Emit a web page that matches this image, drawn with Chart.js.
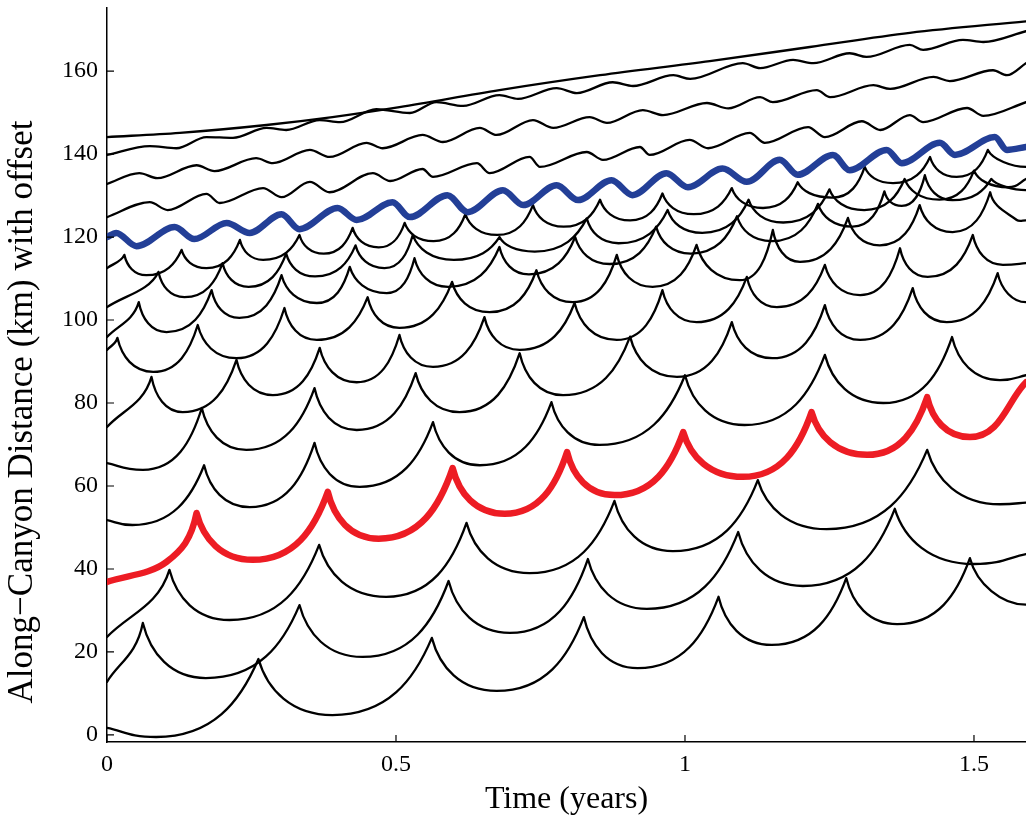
<!DOCTYPE html>
<html><head><meta charset="utf-8">
<script src="https://cdn.jsdelivr.net/npm/chart.js@4.4.1/dist/chart.umd.min.js"></script>
<style>html,body{margin:0;padding:0;background:#fff}#wrap{width:1026px;height:816px}</style>
</head><body><div id="wrap"><canvas id="c" width="1026" height="816"></canvas></div>
<script>
const xTicks=[0,0.5,1,1.5];
const yTicks=[0,20,40,60,80,100,120,140,160];
const xLabel='Time (years)';
const yLabel='Along\u2212Canyon Distance (km) with offset';

// scallop curves (t, km): cusps and troughs
const curve1=[[0,1.7],[0.085,-0.5],[0.262,18.3],[0.39,4.8],[0.562,23.4],[0.674,10.6],[0.825,28.4],[0.918,16.1],[1.058,33.3],[1.15,21.7],[1.279,37.8],[1.367,26.7],[1.493,42.6],[1.59,31.4]];
const curve2=[[0,12.8],[0.062,27],[0.171,13.7],[0.333,31.3],[0.442,18.8],[0.591,37.1],[0.697,24.6],[0.832,42.4],[0.934,30.4],[1.092,48.9],[1.204,35.9],[1.363,54.5],[1.5,41.2],[1.59,43.6]];
const curve3=[[0,23.6],[0.108,39.8],[0.212,27.7],[0.367,45.8],[0.483,33.3],[0.622,51.1],[0.731,39],[0.878,56.4],[0.979,44.3],[1.126,61.4],[1.245,49.6],[1.419,68.7],[1.545,55.6],[1.59,56]];
const redCurve=[[0,36.9],[0.103,41.7],[0.155,53.5],[0.252,42.2],[0.382,58.6],[0.47,47.3],[0.598,64.3],[0.688,53.3],[0.796,68.2],[0.878,57.8],[0.997,73],[1.1,62.2],[1.219,77.8],[1.315,67.5],[1.419,81.4],[1.493,71.8],[1.59,85]];
const curve5=[[0,51.8],[0.044,50.6],[0.168,65],[0.247,54.9],[0.359,70.4],[0.437,59.8],[0.564,75.4],[0.645,65],[0.769,80.2],[0.852,69.9],[1.0,86.7],[1.103,74.7],[1.242,91.6],[1.343,80],[1.462,95.9],[1.545,85.5],[1.59,86.7]];
const curve6=[[0,65.5],[0.062,63.9],[0.164,78.8],[0.241,68.7],[0.359,83.6],[0.432,73.5],[0.534,87.2],[0.61,77.8],[0.714,92],[0.789,81.9],[0.905,96],[0.986,86.3],[1.081,99.5],[1.151,90.8],[1.242,103.6],[1.303,95.2],[1.394,107.7],[1.453,99.5],[1.541,111.3],[1.59,104.3]];
const curve7=[[0,74.2],[0.077,86.3],[0.131,77.8],[0.224,90.4],[0.287,81.9],[0.368,93.3],[0.432,85],[0.506,96.4],[0.564,88.7],[0.653,100.7],[0.714,92.8],[0.809,104.1],[0.882,95.2],[0.961,107.2],[1.02,99.5],[1.107,110.4],[1.159,103.1],[1.242,113.3],[1.303,106],[1.372,117.3],[1.42,110.4],[1.498,120.5],[1.55,113.3],[1.59,113.7]];
const curve8=[[0,92.8],[0.018,95.7],[0.08,87.5],[0.157,98.8],[0.224,90.8],[0.307,102.9],[0.363,95.2],[0.451,105.5],[0.506,98.1],[0.597,109.2],[0.662,101.9],[0.743,112],[0.806,104.3],[0.882,115.7],[0.944,108],[1.02,118.1],[1.095,109.6],[1.152,121.7],[1.199,114],[1.282,124.6],[1.337,118],[1.406,127.7],[1.463,121.2],[1.528,130.8],[1.574,124.1],[1.59,124]];
const curve9=[[0,95.9],[0.055,104.3],[0.103,97.1],[0.181,107.2],[0.229,100.5],[0.302,110.8],[0.363,104.1],[0.42,112.8],[0.484,106.5],[0.532,114.9],[0.59,108],[0.679,117.6],[0.73,111],[0.81,120],[0.87,113.5],[0.95,122.5],[1.01,116],[1.09,125],[1.15,119],[1.23,128],[1.29,122.5],[1.345,131],[1.375,127.5],[1.415,134.9],[1.463,128.9],[1.53,134],[1.59,131.3]];
const curve10=[[0,103.1],[0.089,111.6],[0.134,105.5],[0.2,113.7],[0.245,108],[0.31,116],[0.36,110.5],[0.43,118],[0.48,112.5],[0.529,120.5],[0.6,114.5],[0.679,120],[0.74,116.5],[0.83,124.5],[0.885,118.5],[0.97,126.5],[1.03,121],[1.11,129],[1.17,123.5],[1.25,131.5],[1.31,126.5],[1.38,134],[1.44,129],[1.5,136],[1.56,132],[1.59,134]];
const curve11=[[0,112.5],[0.03,115.7],[0.068,110.8],[0.129,116.9],[0.172,112.5],[0.23,119.3],[0.27,114.5],[0.333,120.5],[0.375,116],[0.425,122.2],[0.47,117.5],[0.515,123.4],[0.565,119],[0.62,125.5],[0.675,120.5],[0.737,127.7],[0.79,122.5],[0.853,129],[0.905,124],[0.961,130.5],[1.015,125.5],[1.081,131.8],[1.135,127],[1.195,133.2],[1.255,129.5],[1.311,136.9],[1.36,133],[1.424,139.3],[1.47,134.5],[1.524,141],[1.59,136.9]];

// smooth wavy curves (peaks and troughs)
const blueCurve=[[0,120],[0.016,121],[0.051,117.8],[0.117,122.4],[0.151,119.5],[0.207,123.4],[0.247,121],[0.302,125.5],[0.333,121.9],[0.399,127],[0.432,124.1],[0.494,128.4],[0.524,124.8],[0.589,130.1],[0.624,126],[0.685,131.3],[0.72,127.7],[0.778,132.5],[0.815,128.9],[0.873,133.7],[0.909,130.1],[0.968,135.4],[1.005,132],[1.065,136.5],[1.107,133.3],[1.164,138.6],[1.195,135],[1.256,139.8],[1.285,136.1],[1.349,141],[1.375,137.8],[1.441,142.7],[1.467,139.8],[1.536,144.1],[1.557,141],[1.59,141.7]];
const top4=[[0,124.8],[0.074,128.4],[0.105,126.5],[0.172,130.4],[0.195,128.2],[0.27,131.8],[0.302,129.6],[0.351,133.3],[0.385,130.8],[0.46,135.4],[0.49,133.5],[0.546,136.4],[0.564,134.5],[0.64,137.8],[0.662,135.4],[0.731,139.3],[0.749,136.9],[0.83,140.5],[0.858,138.6],[0.922,141.7],[0.939,139.8],[1.008,143.4],[1.04,141.4],[1.112,145.1],[1.138,142.7],[1.213,146.5],[1.242,144.1],[1.306,147.9],[1.338,145.8],[1.389,149.4],[1.412,147.7],[1.488,151.1],[1.516,149.2],[1.59,152.5]];
const top3=[[0,132.8],[0.056,135.4],[0.087,134.2],[0.155,137.3],[0.186,135.9],[0.258,139],[0.287,137.8],[0.351,141],[0.385,139.3],[0.449,142.7],[0.477,141.4],[0.546,144.6],[0.581,142.9],[0.645,146.3],[0.674,144.6],[0.737,148.2],[0.772,146.3],[0.835,148.9],[0.865,147.5],[0.927,150.6],[0.962,149.4],[1.038,152.3],[1.075,151],[1.13,153.7],[1.152,152.5],[1.228,155.4],[1.251,153.7],[1.326,156.6],[1.355,155.7],[1.43,158.6],[1.458,157.6],[1.533,160.2],[1.557,159],[1.59,161.9]];
const top2=[[0,139.8],[0.074,141.9],[0.12,141.4],[0.172,144.1],[0.218,143.9],[0.276,146.3],[0.31,145.8],[0.368,148.2],[0.403,147.7],[0.466,150.8],[0.524,149.9],[0.57,152.5],[0.616,151.6],[0.679,154.2],[0.711,153.3],[0.778,155.9],[0.813,154.7],[0.875,157.3],[0.91,156.4],[0.98,159],[1.009,158.1],[1.1,161.9],[1.13,160.7],[1.187,162.7],[1.222,161.9],[1.285,164.3],[1.314,163.4],[1.389,166.3],[1.412,165.1],[1.481,167.5],[1.516,167],[1.59,169.6]];
const top1=[[0,144.1],[0.126,145.1],[0.276,147],[0.39,148.9],[0.506,151.3],[0.679,155.4],[0.853,159],[1.043,162.4],[1.216,165.8],[1.389,169.2],[1.59,172]];

const scallops=[curve1,curve2,curve3,curve5,curve6,curve7,curve8,curve9,curve10,curve11];
const waves=[top4,top3,top2,top1];

const toPts=arr=>arr.map(p=>({x:p[0],y:p[1]}));
const datasets=[];
datasets.push({data:toPts(redCurve),borderColor:'#ED1C24',borderWidth:6.5,tension:0.4,scallop:true});
datasets.push({data:toPts(blueCurve),borderColor:'#233F97',borderWidth:6.5,cubicInterpolationMode:'monotone'});
scallops.forEach(c=>datasets.push({data:toPts(c),borderColor:'#000',borderWidth:2.3,tension:0.4,scallop:true}));
waves.forEach(c=>datasets.push({data:toPts(c),borderColor:'#000',borderWidth:2.3,cubicInterpolationMode:'monotone'}));

// Curve styling: quarter-ellipse arcs between cusps (sharp) and troughs (flat)
const K=0.5523, TILT_UP=0.18, TILT_DOWN=0.12;
const scallopShape={id:'scallopShape',beforeDatasetDraw(chart,args){
  const ds=chart.data.datasets[args.index];
  if(!ds.scallop) return;
  const meta=args.meta,line=meta.dataset,p=meta.data,n=p.length;
  line.updateControlPoints(chart.chartArea,'x');
  const kinds=p.map((pt,i)=>{
    if(i===0||i===n-1) return 'e';
    if(pt.y<p[i-1].y&&pt.y<p[i+1].y) return 'c';
    if(pt.y>p[i-1].y&&pt.y>p[i+1].y) return 'm';
    return 'o';
  });
  for(let i=0;i<n;i++){
    const pt=p[i],k=kinds[i];
    const prev=i>0?p[i-1]:null,next=i<n-1?p[i+1]:null;
    let ux=0,uy=0;
    if(k==='o'||k==='e'){
      const a=prev||pt,b=next||pt;
      const dx=b.x-a.x,dy=b.y-a.y,L=Math.hypot(dx,dy)||1;ux=dx/L;uy=dy/L;
      if(k==='e'&&i===n-1&&prev&&kinds[i-1]==='c'&&pt.y>prev.y){ux=1;uy=0;}
    }
    if(prev){
      const dx=pt.x-prev.x,dy=Math.abs(pt.y-prev.y);
      if(k==='c'){pt.cp1x=pt.x-TILT_UP*dx;pt.cp1y=pt.y+K*dy;}
      else if(k==='m'){pt.cp1x=pt.x-K*dx;pt.cp1y=pt.y;}
      else{const L=Math.hypot(dx,dy)/3;pt.cp1x=pt.x-ux*L;pt.cp1y=pt.y-uy*L;}
    }
    if(next){
      const dx=next.x-pt.x,dy=Math.abs(next.y-pt.y);
      if(k==='c'){pt.cp2x=pt.x+TILT_DOWN*dx;pt.cp2y=pt.y+K*dy;}
      else if(k==='m'){pt.cp2x=pt.x+K*dx;pt.cp2y=pt.y;}
      else{const L=Math.hypot(dx,dy)/3;pt.cp2x=pt.x+ux*L;pt.cp2y=pt.y+uy*L;}
    }
  }
}};

const FONT='"Liberation Serif","Times New Roman",serif';
const tickFont={family:FONT,size:24};
const xTitleFont={family:FONT,size:32,lineHeight:1.0};
const Y_TITLE_SIZE=35;
const decor={id:'decor',afterDraw(chart){
  const ctx=chart.ctx,xs=chart.scales.x,ys=chart.scales.y,a=chart.chartArea;
  ctx.save();ctx.strokeStyle='#000';ctx.lineWidth=1.2;ctx.beginPath();
  xTicks.forEach(v=>{const p=xs.getPixelForValue(v);ctx.moveTo(p,a.bottom);ctx.lineTo(p,a.bottom-7);});
  yTicks.forEach(v=>{const p=ys.getPixelForValue(v);ctx.moveTo(a.left,p);ctx.lineTo(a.left+7,p);});
  ctx.stroke();
  ctx.translate(23,412);ctx.rotate(-Math.PI/2);
  ctx.font=Y_TITLE_SIZE+'px '+FONT;ctx.fillStyle='#000';ctx.textAlign='center';ctx.textBaseline='middle';
  ctx.fillText(yLabel,0,0);
  ctx.restore();
}};
new Chart(document.getElementById('c'),{
  type:'line',
  data:{datasets},
  options:{
    responsive:false,animation:false,devicePixelRatio:1,
    layout:{padding:{top:8,right:0,left:0,bottom:0}},
    elements:{point:{radius:0},line:{borderCapStyle:'round',borderJoinStyle:'round',fill:false}},
    plugins:{legend:{display:false},tooltip:{enabled:false}},
    scales:{
      x:{type:'linear',min:0,max:1.59,
        afterBuildTicks:s=>{s.ticks=xTicks.map(v=>({value:v}));},
        afterFit:s=>{s.height=74;s.paddingLeft=0;s.paddingRight=0;},
        ticks:{font:tickFont,color:'#000',padding:8,maxRotation:0,autoSkip:false,callback:v=>String(v)},
        grid:{display:false,drawTicks:false},
        border:{display:true,color:'#000',width:1.5},
        title:{display:true,text:xLabel,font:xTitleFont,color:'#000',padding:{top:0,bottom:0}}},
      y:{type:'linear',min:-1.7,max:175.2,
        afterBuildTicks:s=>{s.ticks=yTicks.map(v=>({value:v}));},
        afterFit:s=>{s.width=107;s.paddingTop=0;s.paddingBottom=0;},
        ticks:{font:tickFont,color:'#000',padding:9,autoSkip:false,callback:v=>String(v)},
        grid:{display:false,drawTicks:false},
        border:{display:true,color:'#000',width:1.5},
        title:{display:false}}
    }
  },
  plugins:[scallopShape,decor]
});
</script></body></html>
